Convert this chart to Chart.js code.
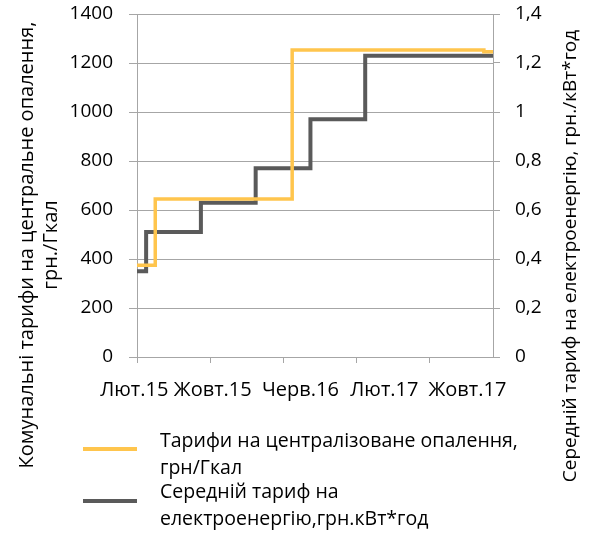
<!DOCTYPE html>
<html>
<head>
<meta charset="utf-8">
<script src="https://cdn.jsdelivr.net/npm/chart.js@4.4.0/dist/chart.umd.min.js"></script>
<style>
  body { margin: 0; background: #fff; font-family: "Open Sans", sans-serif; }
  #wrap { position: relative; width: 589px; height: 550px; }
  #box { position: absolute; left: 0; top: 0; width: 589px; height: 550px; }
  .key { position: absolute; left: 83px; width: 54px; height: 4px; }
  .txt { position: absolute; left: 160px; font-size: 19.5px; line-height: 27px; color: #000; white-space: nowrap; }
</style>
</head>
<body>
<div id="wrap">
  <div id="box"><canvas id="chart"></canvas></div>
  <div class="key" style="top:447px;background:#ffc54d"></div>
  <div class="txt" style="top:426px">Тарифи на централізоване опалення,<br>грн/Гкал</div>
  <div class="key" style="top:499px;background:#5a5a5a"></div>
  <div class="txt" style="top:477px">Середній тариф на<br>електроенергію,грн.кВт*год</div>
</div>
<script>
// months counted from Feb 2015 (0 = Лют.15)
var tickLabels = ['Лют.15', 'Жовт.15', 'Черв.16', 'Лют.17', 'Жовт.17'];
var tickMonths = [0, 8, 16, 24, 32];

// heating tariff, грн/Гкал (left axis) - month of change and value
var heatMonths = [0, 2, 17, 38, 39];
var heatValues = [375, 645, 1253, 1246, 1246];

// electricity tariff, грн/кВт*год (right axis)
var elecMonths = [0, 1, 7, 13, 19, 25, 39];
var elecValues = [0.35, 0.51, 0.63, 0.77, 0.97, 1.23, 1.23];

var lastMonth = 39;
// Excel spread the labels a little wider than the ticks
var labelShift = [-0.3, 0.3, 1.9, 3.1, 4.2];

var leftTitle = ['Комунальні тарифи на центральне опалення,', 'грн./Гкал'];
var rightTitle = 'Середній тариф на електроенергію, грн./кВт*год';

var gridColor = '#a6a6a6';
var fam = '"Open Sans", sans-serif';

// axis titles sit lower than the plot centre in the original, so draw them by hand
var axisTitles = {
    id: 'axisTitles',
    afterDraw: function(chart) {
        var c = chart.ctx;
        c.save();
        c.fillStyle = '#000';
        c.textAlign = 'center';
        c.textBaseline = 'middle';
        c.font = '20px ' + fam;
        c.save();
        c.translate(27, 245);
        c.rotate(-Math.PI / 2);
        c.fillText(leftTitle[0], 0, 0);
        c.fillText(leftTitle[1], 0, 24);
        c.restore();
        c.font = '19px ' + fam;
        c.translate(571, 256);
        c.rotate(-Math.PI / 2);
        c.fillText(rightTitle, 0, 0);
        c.restore();
    }
};

// keep the y axes from pushing the plot down for their label overhang
function noOverhang(s, w) {
    s.width = w;
    s.paddingTop = 0;
    s.paddingBottom = 0;
}

var ctx = document.getElementById('chart').getContext('2d');

var chart = new Chart(ctx, {
    type: 'line',
    data: {
        datasets: [{
            label: 'Тарифи на централізоване опалення, грн/Гкал',
            data: heatMonths.map((m, i) => ({x: m, y: heatValues[i]})),
            borderColor: '#ffc54d',
            borderWidth: 3.5,
            stepped: 'before',
            pointRadius: 0,
            yAxisID: 'y'
        }, {
            label: 'Середній тариф на електроенергію,грн.кВт*год',
            data: elecMonths.map((m, i) => ({x: m, y: elecValues[i]})),
            borderColor: '#5a5a5a',
            borderWidth: 4,
            stepped: 'before',
            pointRadius: 0,
            yAxisID: 'y2'
        }]
    },
    plugins: [axisTitles],
    options: {
        responsive: true,
        maintainAspectRatio: false,
        animation: false,
        layout: {padding: {top: 14, bottom: 147, left: 0, right: 0}},
        plugins: {legend: {display: false}, tooltip: {enabled: false}},
        scales: {
            x: {
                type: 'linear',
                min: 0,
                max: lastMonth,
                afterBuildTicks: s => { s.ticks = tickMonths.map(v => ({value: v})); },
                ticks: {display: false},
                grid: {drawOnChartArea: false, color: gridColor, tickLength: 6},
                border: {color: gridColor, width: 1}
            },
            xl: {
                type: 'linear',
                position: 'bottom',
                min: 0,
                max: lastMonth,
                afterBuildTicks: s => { s.ticks = tickMonths.map((v, i) => ({value: v + labelShift[i]})); },
                afterFit: s => { s.height = 40; },
                ticks: {
                    padding: 15,
                    font: {family: fam, size: 20},
                    color: '#000',
                    maxRotation: 0,
                    autoSkip: false,
                    callback: (v, i) => tickLabels[i]
                },
                grid: {display: false, drawTicks: false},
                border: {display: false}
            },
            y: {
                position: 'left',
                min: 0,
                max: 1400,
                ticks: {stepSize: 200, padding: 16, font: {family: fam, size: 19}, color: '#000', callback: v => String(v)},
                grid: {color: gridColor, tickLength: 8},
                border: {color: gridColor},
                afterFit: s => noOverhang(s, 137)
            },
            y2: {
                position: 'right',
                min: 0,
                max: 1.4,
                ticks: {
                    stepSize: 0.2,
                    padding: 15,
                    font: {family: fam, size: 19},
                    color: '#000',
                    callback: v => String(Math.round(v * 10) / 10).replace('.', ',')
                },
                grid: {drawOnChartArea: false, color: gridColor, tickLength: 7},
                border: {color: gridColor},
                afterFit: s => noOverhang(s, 96)
            }
        }
    }
});
</script>
</body>
</html>
